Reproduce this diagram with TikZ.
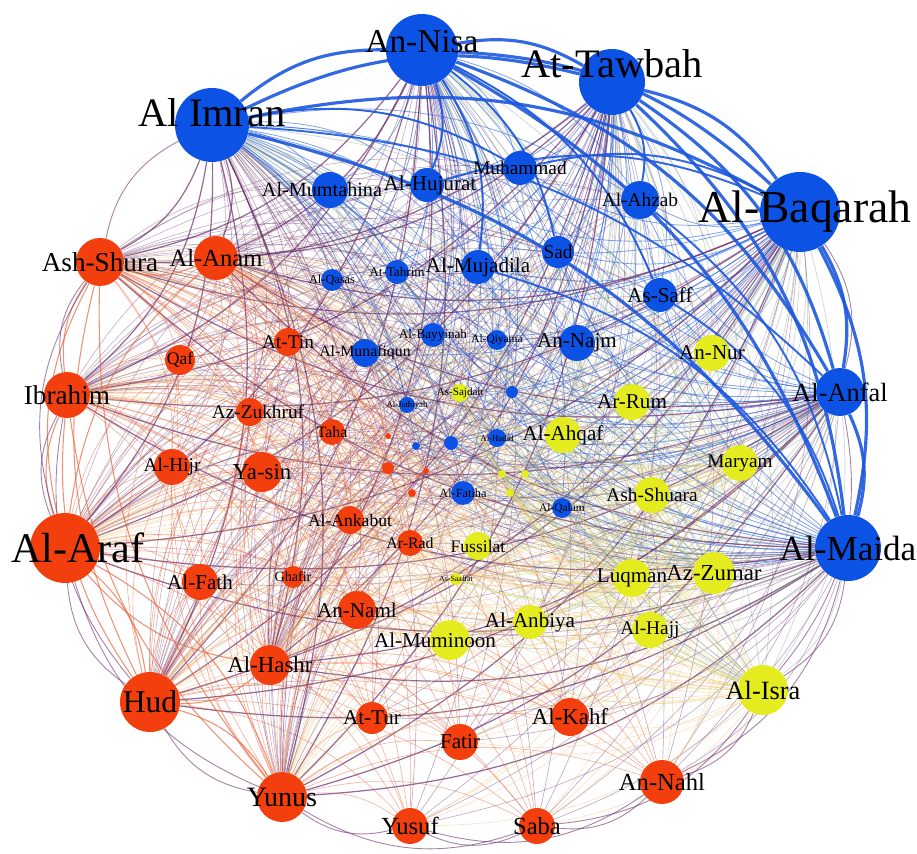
\documentclass[tikz,border=0pt]{standalone}
\usepackage{fontspec}
\setmainfont{Liberation Serif}
\usetikzlibrary{backgrounds}
\definecolor{gblue}{RGB}{12,82,228}
\definecolor{gred}{RGB}{243,62,14}
\definecolor{gyellow}{RGB}{228,236,32}
\definecolor{ebb}{RGB}{28,88,222}
\definecolor{ebr}{RGB}{105,45,105}
\definecolor{err}{RGB}{232,100,60}
\definecolor{ery}{RGB}{240,185,110}
\definecolor{eby}{RGB}{120,150,135}
\definecolor{eyy}{RGB}{222,215,100}
\tikzstyle{bnode}=[circle, fill=gblue, inner sep=0pt]
\tikzstyle{rnode}=[circle, fill=gred, inner sep=0pt]
\tikzstyle{ynode}=[circle, fill=gyellow, inner sep=0pt]
\tikzset{
    sz/.style={minimum size=#1*0.04cm},
    lbl/.style={font=\fontsize{#1}{#1}\selectfont, inner sep=0pt, text=black},
    thin edge/.style={line width=0.35pt, opacity=0.42, bend left=20},
}
\tikzstyle{hubedge}=[draw=ebb, line width=1.8pt, opacity=0.9, bend left=20]

\begin{document}
\begin{tikzpicture}[x=0.02cm, y=-0.02cm]
    \useasboundingbox (0,0) rectangle (917,854);

    % blue
    \node[bnode,sz=36,label={[lbl=19,yshift=0.16cm]center:An-Nisa}] (nisa) at (422,50) {};
    \node[bnode,sz=33,label={[lbl=23,yshift=0.36cm]center:At-Tawbah}] (tawbah) at (612,82) {};
    \node[bnode,sz=37,label={[lbl=23,yshift=0.24cm]center:Al Imran}] (imran) at (212,125) {};
    \node[bnode,sz=40,label={[lbl=26,xshift=0.1cm]center:Al-Baqarah}] (baqarah) at (800,212) {};
    \node[bnode,sz=33,label={[lbl=20]center:Al-Maida}] (maida) at (848,548) {};
    \node[bnode,sz=24,label={[lbl=15]center:Al-Anfal}] (anfal) at (840,392) {};
    \node[bnode,sz=18,label={[lbl=11.5,xshift=-0.16cm]center:Al-Mumtahina}] (mumtahina) at (330,190) {};
    \node[bnode,sz=17,label={[lbl=12,xshift=0.06cm]center:Al-Hujurat}] (hujurat) at (427,185) {};
    \node[bnode,sz=17,label={[lbl=11]center:Muhammad}] (muhammad) at (520,168) {};
    \node[bnode,sz=19,label={[lbl=11]center:Al-Ahzab}] (ahzab) at (640,200) {};
    \node[bnode,sz=16,label={[lbl=11]center:Sad}] (sad) at (558,252) {};
    \node[bnode,sz=17,label={[lbl=12]center:As-Saff}] (saff) at (660,295) {};
    \node[bnode,sz=17,label={[lbl=12]center:Al-Mujadila}] (mujadila) at (478,267) {};
    \node[bnode,sz=12,label={[lbl=7.5]center:At-Tahrim}] (tahrim) at (397,272) {};
    \node[bnode,sz=11,label={[lbl=7]center:Al-Qasas}] (qasas) at (332,280) {};
    \node[bnode,sz=14,label={[lbl=9]center:Al-Munafiqun}] (munafiqun) at (365,353) {};
    \node[bnode,sz=12,label={[lbl=7.5]center:Al-Bayyinah}] (bayyinah) at (433,335) {};
    \node[bnode,sz=10,label={[lbl=6.5]center:Al-Qiyama}] (qiyama) at (497,340) {};
    \node[bnode,sz=18,label={[lbl=12]center:An-Najm}] (najm) at (577,343) {};
    \node[bnode,sz=8,label={[lbl=5]center:Al-Jathiyah}] (jathiyah) at (407,405) {};
    \node[bnode,sz=9,label={[lbl=5]center:Al-Hadid}] (hadid) at (497,438) {};
    \node[bnode,sz=12,label={[lbl=7]center:Al-Fatiha}] (fatiha) at (463,493) {};
    \node[bnode,sz=10,label={[lbl=6.5]center:Al-Qalam}] (qalam) at (562,508) {};
    \node[bnode,sz=6] (bb1) at (512,392) {};
    \node[bnode,sz=4] (bb2) at (416,446) {};
    \node[bnode,sz=7] (bb3) at (451,443) {};

    % yellow
    \node[ynode,sz=18,label={[lbl=12]center:An-Nur}] (nur) at (712,353) {};
    \node[ynode,sz=18,label={[lbl=12]center:Ar-Rum}] (rum) at (632,402) {};
    \node[ynode,sz=18,label={[lbl=12]center:Al-Ahqaf}] (ahqaf) at (563,435) {};
    \node[ynode,sz=18,label={[lbl=11]center:Maryam}] (maryam) at (740,463) {};
    \node[ynode,sz=18,label={[lbl=11]center:Ash-Shuara}] (shuara) at (652,495) {};
    \node[ynode,sz=9,label={[lbl=6.3]center:As-Sajdah}] (sajdah) at (460,393) {};
    \node[ynode,sz=19,label={[lbl=12]center:Luqman}] (luqman) at (632,578) {};
    \node[ynode,sz=21,label={[lbl=13]center:Az-Zumar}] (zumar) at (714,573) {};
    \node[ynode,sz=14,label={[lbl=10]center:Fussilat}] (fussilat) at (478,546) {};
    \node[ynode,sz=6,label={[lbl=4.5]center:As-Saaffat}] (saaffat) at (456,579) {};
    \node[ynode,sz=17,label={[lbl=12]center:Al-Anbiya}] (anbiya) at (530,622) {};
    \node[ynode,sz=20,label={[lbl=12,xshift=-0.3cm]center:Al-Muminoon}] (muminoon) at (450,640) {};
    \node[ynode,sz=18,label={[lbl=11]center:Al-Hajj}] (hajj) at (650,630) {};
    \node[ynode,sz=25,label={[lbl=15]center:Al-Isra}] (isra) at (763,690) {};
    \node[ynode,sz=4] (yy1) at (502,474) {};
    \node[ynode,sz=4] (yy2) at (525,474) {};
    \node[ynode,sz=4] (yy3) at (510,493) {};

    % red
    \node[rnode,sz=24,label={[lbl=15.5]center:Ash-Shura}] (shura) at (100,262) {};
    \node[rnode,sz=22,label={[lbl=14]center:Al-Anam}] (anam) at (216,258) {};
    \node[rnode,sz=15,label={[lbl=10]center:Qaf}] (qaf) at (180,360) {};
    \node[rnode,sz=23,label={[lbl=15.5]center:Ibrahim}] (ibrahim) at (67,395) {};
    \node[rnode,sz=14,label={[lbl=11]center:At-Tin}] (tin) at (288,342) {};
    \node[rnode,sz=14,label={[lbl=11,xshift=0.16cm]center:Az-Zukhruf}] (zukhruf) at (250,412) {};
    \node[rnode,sz=13,label={[lbl=9]center:Taha}] (taha) at (332,432) {};
    \node[rnode,sz=18,label={[lbl=11]center:Al-Hijr}] (hijr) at (172,467) {};
    \node[rnode,sz=20,label={[lbl=13]center:Ya-sin}] (yasin) at (262,472) {};
    \node[rnode,sz=35,label={[lbl=24,xshift=0.26cm]center:Al-Araf}] (araf) at (65,548) {};
    \node[rnode,sz=18,label={[lbl=12]center:Al-Fath}] (fath) at (200,582) {};
    \node[rnode,sz=11,label={[lbl=8]center:Ghafir}] (ghafir) at (293,577) {};
    \node[rnode,sz=14,label={[lbl=10]center:Al-Ankabut}] (ankabut) at (350,520) {};
    \node[rnode,sz=13,label={[lbl=9]center:Ar-Rad}] (rad) at (410,543) {};
    \node[rnode,sz=19,label={[lbl=12]center:An-Naml}] (naml) at (357,610) {};
    \node[rnode,sz=20,label={[lbl=13]center:Al-Hashr}] (hashr) at (270,665) {};
    \node[rnode,sz=30,label={[lbl=18]center:Hud}] (hud) at (150,702) {};
    \node[rnode,sz=16,label={[lbl=12]center:At-Tur}] (tur) at (372,718) {};
    \node[rnode,sz=18,label={[lbl=12]center:Fatir}] (fatir) at (460,742) {};
    \node[rnode,sz=19,label={[lbl=13]center:Al-Kahf}] (kahf) at (570,717) {};
    \node[rnode,sz=22,label={[lbl=14]center:An-Nahl}] (nahl) at (662,782) {};
    \node[rnode,sz=25,label={[lbl=16]center:Yunus}] (yunus) at (282,797) {};
    \node[rnode,sz=18,label={[lbl=14]center:Yusuf}] (yusuf) at (410,826) {};
    \node[rnode,sz=18,label={[lbl=14]center:Saba}] (saba) at (537,826) {};
    \node[rnode,sz=3] (rr1) at (388,436) {};
    \node[rnode,sz=6] (rr2) at (388,468) {};
    \node[rnode,sz=3] (rr3) at (426,471) {};
    \node[rnode,sz=4] (rr4) at (412,493) {};

    \begin{scope}[on background layer]
        \fill[white] (0,0) rectangle (917,854);

        % hubs to everything
        \foreach \h in {imran,nisa,tawbah,baqarah,maida,anfal} {
            \foreach \t in {mumtahina,hujurat,muhammad,ahzab,sad,saff,mujadila,tahrim,qasas,munafiqun,bayyinah,qiyama,najm,jathiyah,hadid,fatiha,qalam,bb1,bb2,bb3}
                \draw[thin edge, draw=ebb, line width=0.45pt, opacity=0.55] (\h) to (\t);
            \foreach \t in {araf,hud,ibrahim,shura,yunus,anam,hashr}
                \draw[thin edge, draw=ebr, line width=0.7pt, opacity=0.7] (\h) to (\t);
            \foreach \t in {qaf,tin,zukhruf,taha,hijr,yasin,fath,ghafir,ankabut,rad,naml,tur,fatir,kahf,nahl,yusuf,saba,rr1,rr2,rr3,rr4}
                \draw[thin edge, draw=ebr] (\h) to (\t);
            \foreach \t in {isra,zumar,maryam,luqman,nur,rum,ahqaf,shuara,sajdah,fussilat,saaffat,anbiya,muminoon,hajj,yy1,yy2,yy3}
                \draw[thin edge, draw=eby] (\h) to (\t);
        }

        \foreach \h in {araf,hud,ibrahim,shura,yunus,anam,hashr} {
            \foreach \t in {qaf,tin,zukhruf,taha,hijr,yasin,fath,ghafir,ankabut,rad,naml,tur,fatir,kahf,nahl,yusuf,saba,rr1,rr2,rr3,rr4}
                \draw[thin edge, draw=err, opacity=0.5] (\h) to (\t);
            \foreach \t in {isra,zumar,maryam,luqman,nur,rum,ahqaf,shuara,sajdah,fussilat,saaffat,anbiya,muminoon,hajj,yy1,yy2,yy3}
                \draw[thin edge, draw=ery] (\h) to (\t);
            \foreach \t in {mumtahina,hujurat,muhammad,ahzab,sad,saff,mujadila,tahrim,qasas,munafiqun,bayyinah,qiyama,najm,jathiyah,hadid,fatiha,qalam,bb1,bb2,bb3}
                \draw[thin edge, draw=ebr, opacity=0.38] (\h) to (\t);
        }

        \foreach \h in {isra,zumar,maryam,luqman} {
            \foreach \t in {qaf,tin,zukhruf,taha,hijr,yasin,fath,ghafir,ankabut,rad,naml,tur,fatir,kahf,nahl,yusuf,saba}
                \draw[thin edge, draw=ery] (\h) to (\t);
            \foreach \t in {nur,rum,ahqaf,shuara,sajdah,fussilat,saaffat,anbiya,muminoon,hajj,yy1,yy2,yy3}
                \draw[thin edge, draw=eyy, opacity=0.6] (\h) to (\t);
            \foreach \t in {mumtahina,hujurat,muhammad,ahzab,sad,saff,mujadila,tahrim,qasas,munafiqun,bayyinah,qiyama,najm}
                \draw[thin edge, draw=eby, opacity=0.4] (\h) to (\t);
        }

        % red hubs among themselves
        \foreach \a/\b in {araf/hud,araf/ibrahim,araf/shura,araf/yunus,araf/anam,hud/ibrahim,hud/yunus,hud/shura,
                           ibrahim/shura,yunus/shura,anam/shura,hashr/araf,hashr/hud,yunus/ibrahim}
            \draw[thin edge, draw=err, line width=0.6pt, opacity=0.7] (\a) to (\b);

        % outer ring
        \foreach \a/\b in {baqarah/anfal,maida/isra,isra/nahl,nahl/saba,saba/yusuf,yusuf/yunus,yunus/hud,hud/araf,
                           araf/ibrahim,ibrahim/shura,shura/imran,maida/nahl,anfal/isra,nahl/yusuf,saba/yunus,yunus/araf,
                           hud/ibrahim,araf/shura,isra/saba}
            \draw[draw=ebr, line width=0.5pt, opacity=0.6, bend left=25] (\a) to (\b);

        % main blue links
        \foreach \a/\b in {tawbah/ahzab,nisa/mujadila,ahzab/maida,mujadila/maida,muhammad/baqarah,hujurat/baqarah,
                           nisa/hujurat,saff/maida,nisa/sad,imran/muhammad,nisa/saff,imran/anfal}
            \draw[hubedge, line width=1.1pt] (\a) to (\b);
        \foreach \a/\b in {imran/nisa,nisa/tawbah,imran/tawbah,nisa/baqarah,imran/baqarah,tawbah/baqarah,tawbah/anfal,
                           tawbah/maida,baqarah/maida,baqarah/anfal,nisa/maida,imran/maida,nisa/anfal,anfal/maida}
            \draw[hubedge] (\a) to (\b);
    \end{scope}
\end{tikzpicture}
\end{document}
